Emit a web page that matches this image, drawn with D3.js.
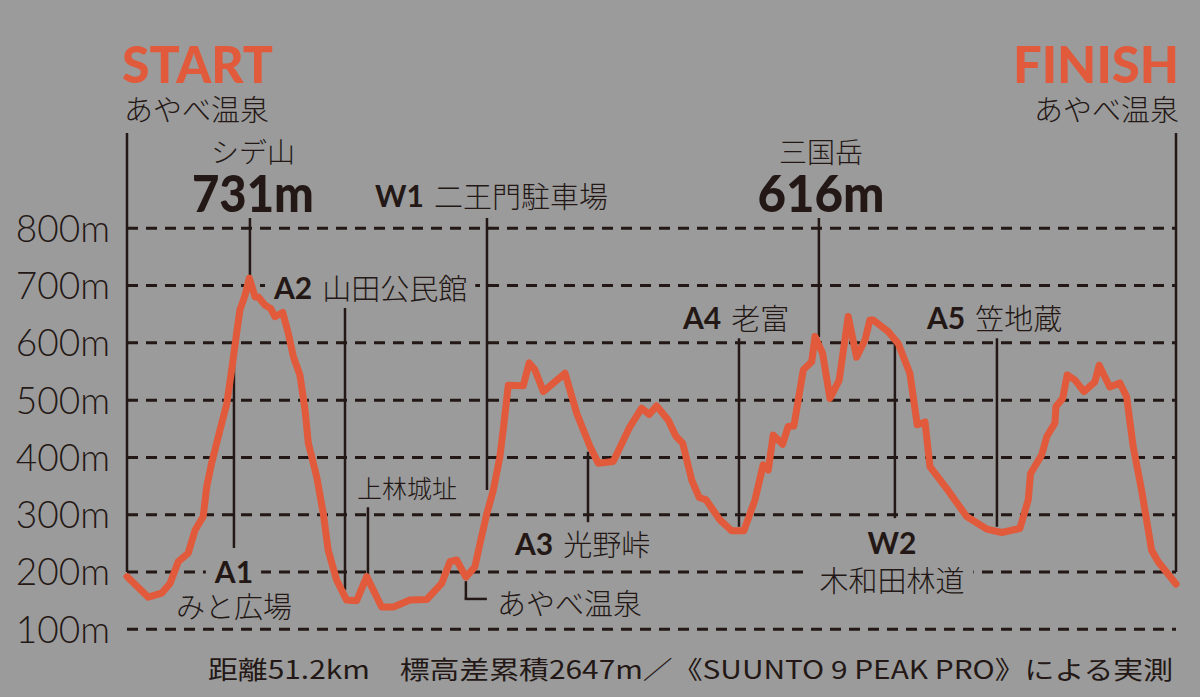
<!DOCTYPE html>
<html><head><meta charset="utf-8">
<script src="https://cdn.jsdelivr.net/npm/d3@7"></script>
<style>html,body{margin:0;padding:0;background:#9b9b9b;} svg{display:block}</style>
</head><body><svg id="chart" width="1200" height="697"></svg>
<script>
// ---------- data ----------
const distanceKm = [0, 1.04, 1.69, 2.10, 2.50, 2.99, 3.32, 3.72, 3.89, 4.13, 4.54, 4.87, 5.11, 5.35, 5.51, 5.76, 5.97, 6.25, 6.41, 6.73, 7.01, 7.22, 7.60, 7.87, 8.12, 8.44, 8.69, 8.85, 9.26, 9.58, 9.82, 10.23, 10.72, 11.21, 11.70, 12.43, 13.00, 13.81, 14.63, 15.36, 15.76, 16.09, 16.54, 16.98, 17.23, 17.55, 17.88, 18.20, 18.40, 18.61, 19.34, 19.63, 19.91, 20.32, 21.38, 21.95, 22.60, 23.00, 23.73, 24.55, 25.12, 25.49, 25.85, 26.42, 26.79, 27.12, 27.56, 27.93, 28.26, 28.94, 29.51, 30.11, 30.65, 31.05, 31.30, 31.54, 32.00, 32.27, 32.55, 33.01, 33.42, 33.58, 33.95, 34.31, 34.76, 35.20, 35.61, 36.02, 36.26, 36.42, 37.15, 37.64, 38.21, 38.57, 38.95, 39.19, 40.00, 40.98, 41.96, 42.69, 43.58, 43.99, 44.10, 44.64, 44.89, 45.29, 45.34, 45.67, 45.89, 46.27, 46.71, 47.24, 47.45, 47.97, 48.46, 48.79, 49.11, 49.52, 50.01, 50.33, 51.2];
const elevationM = [192, 156, 163, 180, 218, 233, 273, 297, 349, 390, 448, 494, 553, 617, 657, 683, 713, 680, 680, 666, 660, 646, 653, 617, 576, 544, 483, 425, 366, 302, 238, 186, 151, 150, 192, 139, 139, 151, 152, 180, 218, 221, 191, 209, 250, 300, 343, 401, 460, 526, 525, 565, 553, 515, 547, 477, 419, 390, 393, 454, 486, 475, 490, 465, 437, 425, 361, 330, 326, 291, 272, 272, 326, 387, 378, 439, 423, 454, 455, 553, 567, 611, 582, 503, 535, 646, 575, 605, 640, 640, 620, 599, 547, 457, 462, 384, 346, 297, 275, 269, 276, 326, 372, 404, 436, 460, 489, 503, 544, 535, 515, 532, 561, 523, 530, 506, 419, 343, 238, 218, 179];
const totalKm = 51.2;
const yTicks = [100, 200, 300, 400, 500, 600, 700, 800];
const yTickLabels = ["100m", "200m", "300m", "400m", "500m", "600m", "700m", "800m"];

const annoCodes = ["A1", "", "A2", "", "", "W1", "A3", "A4", "", "W2", "A5"];
const annoNames = ["みと広場", "シデ山", "山田公民館", "上林城址", "あやべ温泉", "二王門駐車場", "光野峠", "老富", "三国岳", "木和田林道", "笠地蔵"];
const annoKm = [5.22, 6.00, 10.64, 11.76, 16.54, 17.57, 22.50, 29.87, 33.77, 37.48, 42.46];
const annoTopM = [584, 818, 661, 313, 184, 818, 410, 608, 818, 600, 608];
const annoBottomM = [242, 706, 169, 190, 153, 343, 287, 279, 610, 294, 279];
const peakValues = ["", "731m", "", "", "", "", "", "", "616m", "", ""];

const startLabel = "START";
const finishLabel = "FINISH";
const baseName = "あやべ温泉";
const caption = "距離51.2km　標高差累積2647m／《SUUNTO 9 PEAK PRO》による実測";

// ---------- style ----------
const BG = "#9b9b9b", INK = "#231815", ORANGE = "#e05a3b";
const JP = "'Noto Sans CJK JP', 'Noto Sans CJK SC', sans-serif";
const LAT = "Lato, 'Noto Sans CJK JP', sans-serif";

const svg = d3.select("#chart");
svg.append("rect").attr("width", 1200).attr("height", 697).attr("fill", BG);

const x = d3.scaleLinear().domain([0, totalKm]).range([127, 1176]);
const y = d3.scaleLinear().domain([100, 800]).range([629.3, 228.3]);

// gridlines
svg.append("g").selectAll("line").data(yTicks).join("line")
  .attr("x1", x(0)).attr("x2", x(totalKm))
  .attr("y1", d => y(d)).attr("y2", d => y(d))
  .attr("stroke", INK).attr("stroke-width", 3)
  .attr("stroke-dasharray", "11 8");

// y axis labels
const yAxis = d3.axisLeft(y).tickValues(yTicks).tickSize(0).tickPadding(17)
  .tickFormat((d, i) => yTickLabels[i]);
const ya = svg.append("g").attr("transform", `translate(${x(0)},0)`).call(yAxis);
ya.select(".domain").remove();
ya.selectAll("text").attr("font-family", LAT).attr("font-weight", 300)
  .attr("font-size", 37).attr("fill", INK).attr("dy", "0.35em");

// annotation layouts (pixel styling)
const layout = [
  {type: "stack", codeY: 571, nameY: 605, dx: 0},
  {type: "peak", nameY: 151, valueY: 212, dx: 3, w: 122},
  {type: "inline", y: 287, startDx: -71},
  {type: "plain", y: 487, startDx: -11, size: 25},
  {type: "bracket", y: 602, arm: 21, textDx: 31},
  {type: "inline", y: 195, startDx: -112},
  {type: "inline", y: 543, startDx: -73},
  {type: "inline", y: 317, startDx: -56},
  {type: "peak", nameY: 151, valueY: 212, dx: 2, w: 127},
  {type: "stack", codeY: 542, nameY: 579, dx: -3},
  {type: "inline", y: 317, startDx: -70}
];

const labelsG = svg.append("g");
const linesG = svg.append("g");

function addBg(g, textSel, padX, padY) {
  const b = textSel.node().getBBox();
  g.insert("rect", ":first-child")
    .attr("x", b.x - padX).attr("y", b.y + padY)
    .attr("width", b.width + 2 * padX).attr("height", b.height - 2 * padY)
    .attr("fill", BG);
}

annoKm.forEach((km, i) => {
  const L = layout[i];
  const lx = x(km);
  const g = labelsG.append("g");
  // vertical line
  linesG.append("line").attr("x1", lx).attr("x2", lx)
    .attr("y1", y(annoTopM[i])).attr("y2", y(annoBottomM[i]))
    .attr("stroke", INK).attr("stroke-width", 2.5);
  if (L.type === "stack") {
    const t1 = g.append("text").attr("x", lx + L.dx).attr("y", L.codeY)
      .attr("text-anchor", "middle").attr("dominant-baseline", "central")
      .attr("font-family", LAT).attr("font-weight", 700).attr("font-size", 30)
      .attr("fill", INK).text(annoCodes[i]);
    addBg(g, t1, 8, 4);
    const g2 = labelsG.append("g");
    const t2 = g2.append("text").attr("x", lx + L.dx).attr("y", L.nameY)
      .attr("text-anchor", "middle").attr("dominant-baseline", "central")
      .attr("font-family", JP).attr("font-weight", 300).attr("font-size", 29)
      .attr("fill", INK).text(annoNames[i]);
    addBg(g2, t2, 9, 4);
  } else if (L.type === "peak") {
    g.append("text").attr("x", lx + L.dx).attr("y", L.nameY)
      .attr("text-anchor", "middle").attr("dominant-baseline", "central")
      .attr("font-family", JP).attr("font-weight", 300).attr("font-size", 28)
      .attr("fill", INK).text(annoNames[i]);
    g.append("text").attr("x", lx + L.dx).attr("y", L.valueY)
      .attr("text-anchor", "middle")
      .attr("font-family", LAT).attr("font-weight", 900).attr("font-size", 52)
      .attr("textLength", L.w).attr("lengthAdjust", "spacingAndGlyphs")
      .attr("fill", INK).text(peakValues[i]);
  } else if (L.type === "inline") {
    const t = g.append("text").attr("x", lx + L.startDx).attr("y", L.y)
      .attr("dominant-baseline", "central").attr("fill", INK);
    t.append("tspan").attr("font-family", LAT).attr("font-weight", 700)
      .attr("font-size", 30).text(annoCodes[i]);
    t.append("tspan").attr("dx", 10).attr("font-family", JP).attr("font-weight", 300)
      .attr("font-size", 29).text(annoNames[i]);
    addBg(g, t, 8, 4);
  } else if (L.type === "plain") {
    const t = g.append("text").attr("x", lx + L.startDx).attr("y", L.y)
      .attr("dominant-baseline", "central").attr("fill", INK)
      .attr("font-family", JP).attr("font-weight", 300).attr("font-size", L.size)
      .text(annoNames[i]);
    addBg(g, t, 6, 4);
  } else if (L.type === "bracket") {
    linesG.append("line").attr("x1", lx - 1.25).attr("x2", lx + L.arm)
      .attr("y1", y(annoBottomM[i])).attr("y2", y(annoBottomM[i]))
      .attr("stroke", INK).attr("stroke-width", 2.5);
    g.append("text").attr("x", lx + L.textDx).attr("y", L.y)
      .attr("dominant-baseline", "central").attr("fill", INK)
      .attr("font-family", JP).attr("font-weight", 300).attr("font-size", 29)
      .text(annoNames[i]);
  }
});

// start / finish vertical lines
[0, totalKm].forEach(km => {
  linesG.append("line").attr("x1", x(km)).attr("x2", x(km))
    .attr("y1", 133).attr("y2", y(200))
    .attr("stroke", INK).attr("stroke-width", 2.5);
});

// start / finish headers
svg.append("text").attr("x", 122).attr("y", 83)
  .attr("font-family", LAT).attr("font-weight", 900).attr("font-size", 52)
  .attr("fill", ORANGE).attr("textLength", 151).attr("lengthAdjust", "spacingAndGlyphs")
  .text(startLabel);
svg.append("text").attr("x", 1179).attr("y", 83).attr("text-anchor", "end")
  .attr("font-family", LAT).attr("font-weight", 900).attr("font-size", 52)
  .attr("fill", ORANGE).attr("textLength", 166).attr("lengthAdjust", "spacingAndGlyphs")
  .text(finishLabel);
svg.append("text").attr("x", 124).attr("y", 108).attr("dominant-baseline", "central")
  .attr("font-family", JP).attr("font-weight", 300).attr("font-size", 29)
  .attr("fill", INK).text(baseName);
svg.append("text").attr("x", 1179).attr("y", 108).attr("dominant-baseline", "central")
  .attr("text-anchor", "end")
  .attr("font-family", JP).attr("font-weight", 300).attr("font-size", 29)
  .attr("fill", INK).text(baseName);

// elevation profile
const pts = distanceKm.map((d, i) => [d, elevationM[i]]);
svg.append("path").datum(pts)
  .attr("d", d3.line().x(d => x(d[0])).y(d => y(d[1])))
  .attr("fill", "none").attr("stroke", ORANGE).attr("stroke-width", 7)
  .attr("stroke-linejoin", "round").attr("stroke-linecap", "round");

// caption
svg.append("text").attr("x", 208).attr("y", 668).attr("dominant-baseline", "central")
  .attr("font-family", JP).attr("font-weight", 400).attr("font-size", 25)
  .attr("textLength", 965).attr("lengthAdjust", "spacingAndGlyphs")
  .attr("fill", INK).text(caption);
</script>
</body></html>
